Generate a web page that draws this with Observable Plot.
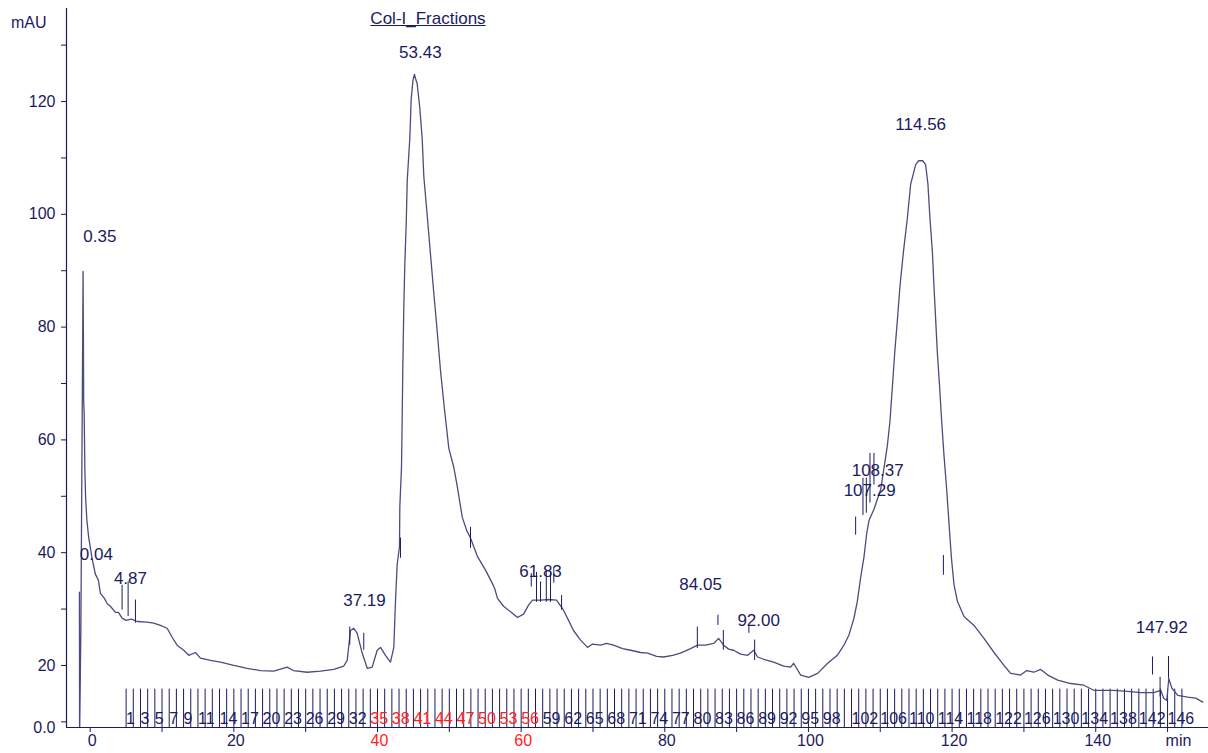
<!DOCTYPE html>
<html><head><meta charset="utf-8">
<script src="https://cdn.jsdelivr.net/npm/d3@7"></script>
<script src="https://cdn.jsdelivr.net/npm/@observablehq/plot@0.6"></script>
<style>
body{margin:0;background:#fff;font-family:"Liberation Sans",Arial,sans-serif;}
#wrap{position:relative;width:1208px;height:753px;overflow:hidden;}
#title{position:absolute;left:428px;top:9px;transform:translateX(-50%);font-size:17px;color:#1b1b5e;text-decoration:underline;white-space:nowrap;}
#unit{position:absolute;left:11px;top:14px;font-size:16px;color:#1b1b5e;}
</style></head><body>
<div id="wrap"><div id="chart"></div><div id="title">Col-I_Fractions</div><div id="unit">mAU</div></div>
<script>
// Chromatogram trace: retention time (min) and absorbance (mAU)
const time = [-1.50,-1.48,-1.30,-0.99,-0.95,-0.91,-0.84,-0.74,-0.64,-0.46,-0.21,0.26,0.72,1.14,1.42,1.98,2.35,2.81,3.51,3.93,4.44,4.99,5.74,6.53,7.92,8.84,9.78,10.71,11.41,12.10,13.02,13.72,14.65,15.35,16.74,18.13,19.99,21.85,23.70,25.56,27.42,28.30,30.21,32.06,33.91,35.31,35.78,36.24,36.70,37.17,37.87,38.57,39.26,39.96,40.42,41.11,41.81,42.27,42.51,42.74,43.06,43.11,43.34,43.44,43.52,43.66,43.80,44.00,44.14,44.50,44.69,44.94,45.15,45.29,45.52,45.88,46.22,46.45,46.92,47.38,47.84,48.31,48.77,49.33,49.93,50.63,51.10,51.80,52.40,52.95,53.89,55.04,55.97,56.30,56.71,57.55,58.66,59.50,60.33,61.03,61.59,62.70,63.81,64.93,65.90,66.60,67.29,68.27,69.25,69.94,71.06,71.89,72.86,74.12,75.24,76.63,77.61,78.86,79.83,81.09,82.19,83.59,84.56,85.68,86.80,87.49,88.19,88.89,89.59,90.56,91.54,92.37,92.93,93.76,95.16,96.55,97.53,97.94,98.92,100.03,101.28,102.68,104.02,104.94,105.64,106.34,106.81,107.27,107.73,108.11,108.43,109.12,110.06,110.99,111.35,111.68,112.01,112.38,112.74,113.22,113.77,114.23,114.93,115.35,115.91,116.32,116.64,116.92,117.26,117.48,117.72,117.95,118.27,118.55,118.87,119.25,119.57,119.90,120.26,120.74,121.66,123.05,124.44,125.84,127.23,128.16,129.55,130.39,131.37,132.34,133.32,134.71,136.52,138.33,139.72,140.70,142.51,144.46,146.27,148.08,149.05,149.47,149.89,150.17,150.59,151.42,152.81,153.93,154.90];
const absorbance = [33.0,6.7,26.2,89.9,79.4,67.0,64.7,54.6,49.8,45.7,42.7,39.0,36.2,35.1,32.8,31.9,31.0,30.5,29.4,29.4,28.4,28.0,28.2,27.8,27.7,27.5,27.1,26.6,25.0,23.6,22.7,21.8,22.3,21.3,20.9,20.6,20.0,19.5,19.1,19.0,19.7,19.1,18.8,19.0,19.3,19.9,20.9,26.2,26.6,25.7,22.2,19.5,19.7,22.7,23.2,21.8,20.6,23.2,31.6,37.9,41.1,48.2,55.1,64.0,72.3,83.3,91.0,98.4,106.0,113.5,120.4,123.8,124.8,124.1,123.2,119.0,113.5,106.7,99.8,92.9,86.0,79.3,72.3,65.4,58.5,55.1,51.8,46.3,44.0,42.6,39.4,36.9,34.6,33.7,31.9,30.5,29.4,28.5,29.1,30.7,31.6,31.6,31.7,31.6,29.8,28.0,26.2,24.5,23.2,23.8,23.6,23.9,23.6,23.0,22.7,22.3,22.2,21.6,21.5,21.8,22.2,23.0,23.6,23.6,23.9,24.8,23.6,22.9,22.7,22.0,21.8,22.7,21.5,21.1,20.6,19.9,19.7,20.4,18.3,17.9,18.6,20.4,21.8,23.6,25.4,28.4,31.4,35.6,39.2,43.4,45.7,47.7,51.2,59.0,63.3,69.3,75.4,81.2,87.2,93.3,99.3,105.3,108.8,109.5,109.5,108.8,105.3,99.3,93.3,87.2,81.2,75.4,69.3,63.3,57.3,51.2,45.2,39.2,34.4,31.4,28.7,27.1,24.8,22.3,20.0,18.6,18.3,19.1,18.8,19.3,18.3,17.4,16.8,16.5,15.6,15.6,15.6,15.4,15.2,15.2,15.6,14.2,13.8,17.7,16.0,14.7,14.4,14.2,13.5];

// Peak labels (retention time text), positions in data units
const peakNames  = ["0.35","0.04","4.87","37.19","53.43","61.83","84.05","92.00","107.29","108.37","114.56","147.92"];
const peakLabelT = [1.35, 0.86, 5.60, 38.19, 45.97, 62.70, 84.99, 93.07, 108.52, 109.64, 115.63, 149.19];
const peakLabelV = [96.1, 39.7, 35.5, 31.6, 128.7, 36.7, 34.4, 28.0, 51.1, 54.6, 116.0, 26.8];

// Peak delimiter marks
const markT   = [4.44,5.28,6.30,36.14,38.09,43.20,52.95,61.41,62.14,62.70,63.50,64.09,64.55,65.63,84.53,87.40,88.15,91.71,92.51,106.57,107.59,108.06,108.57,109.12,118.79,147.90,148.96,150.13];
const markTop = [34.2,34.8,31.6,26.8,25.7,42.6,44.5,36.3,36.5,34.8,36.9,36.5,37.2,32.4,26.8,28.9,26.2,27.1,24.5,46.3,53.2,53.2,57.6,57.6,39.5,21.5,17.9,21.6];
const markBot = [29.8,28.7,27.5,23.6,22.7,39.0,40.8,33.9,31.2,31.2,31.2,31.2,34.6,29.8,23.0,27.1,22.7,25.7,20.9,43.1,46.6,47.0,48.8,52.0,36.0,18.3,14.4,17.7];

// Fractions: 1-minute fractions starting at 5 min, 147 fractions
const fractionStart = 5;
const fractionCount = 147;
const fractionLabels = [1,3,5,7,9,11,14,17,20,23,26,29,32,35,38,41,44,47,50,53,56,59,62,65,68,71,74,77,80,83,86,89,92,95,98,102,106,110,114,118,122,126,130,134,138,142,146];
const collectedFractions = [35,38,41,44,47,50,53,56];

// Axes
const xTickValues = [0,20,40,60,80,100,120,140];
const xTickLabels = ["0","20","40","60","80","100","120","140"];
const xRedTicks = [40,60];
const xUnitTick = 150;
const xUnitLabel = "min";
const xMinorTicks = [0,10,20,30,40,50,60,70,80,90,100,110,120,130,140,150];
const yTickValues = [9.0,20,40,60,80,100,120];
const yTickLabels = ["0.0","20","40","60","80","100","120"];
const yMinorTicks = [10,20,30,40,50,60,70,80,90,100,110,120,130];

const X_DOMAIN = [-3.3, 155.7];
const Y_DOMAIN = [9.0, 136.5];
const FRACTION_TOP = 15.8;
const FRACTION_LABEL_V = 10.5;

const navy = "#1b1b5e";
const traceColor = "#4c4c7e";
const red = "#ff1e1e";

const trace = time.map((t, i) => ({t, v: absorbance[i]}));
const boundaries = d3.range(0, fractionCount + 1).map(k => fractionStart + k);
const fracT = n => fractionStart + (n - 1);
const redLabels = fractionLabels.filter(n => collectedFractions.includes(n));
const navyLabels = fractionLabels.filter(n => !collectedFractions.includes(n));
const marks = markT.map((t, i) => ({t, v1: markTop[i], v2: markBot[i]}));
const peaks = peakNames.map((s, i) => ({s, t: peakLabelT[i], v: peakLabelV[i]}));
const xTicks = xTickValues.map((t, i) => ({t, s: xTickLabels[i], red: xRedTicks.includes(t)}));
const yTicks = yTickValues.map((v, i) => ({v, s: yTickLabels[i]}));

const chart = Plot.plot({
  width: 1208, height: 753,
  marginLeft: 66, marginRight: 0, marginTop: 8, marginBottom: 26,
  x: {domain: X_DOMAIN, label: null},
  y: {domain: Y_DOMAIN, label: null},
  style: {fontFamily: '"Liberation Sans", Arial, sans-serif', background: "white", color: navy},
  marks: [
    Plot.axisX(xMinorTicks, {tickSize: 5, tickFormat: () => "", stroke: navy, label: null}),
    Plot.axisY(yMinorTicks, {tickSize: 5, tickFormat: () => "", stroke: navy, label: null}),
    Plot.ruleX([X_DOMAIN[0]], {stroke: navy, strokeWidth: 1.2}),
    Plot.ruleY([Y_DOMAIN[0]], {stroke: navy, strokeWidth: 1.2}),
    Plot.text(xTicks.filter(d => !d.red), {x: "t", text: "s", frameAnchor: "bottom", dy: 18, dx: 2, fill: navy, fontSize: 16}),
    Plot.text(xTicks.filter(d => d.red), {x: "t", text: "s", frameAnchor: "bottom", dy: 18, dx: 2, fill: red, fontSize: 16}),
    Plot.text([xUnitTick], {x: d => d, text: () => xUnitLabel, frameAnchor: "bottom", dy: 18, dx: -2, textAnchor: "start", fill: navy, fontSize: 16}),
    Plot.text(yTicks, {y: "v", text: "s", frameAnchor: "left", dx: -11, textAnchor: "end", fill: navy, fontSize: 16}),
    Plot.ruleX(boundaries, {x: d => d, y1: Y_DOMAIN[0], y2: FRACTION_TOP, stroke: navy, strokeWidth: 1}),
    Plot.text(navyLabels, {x: fracT, y: FRACTION_LABEL_V, text: d => String(d), textAnchor: "start", dx: 0, fill: navy, fontSize: 16}),
    Plot.text(redLabels, {x: fracT, y: FRACTION_LABEL_V, text: d => String(d), textAnchor: "start", dx: 0, fill: red, fontSize: 16}),
    Plot.line(trace, {x: "t", y: "v", stroke: traceColor, strokeWidth: 1.3, clip: true}),
    Plot.ruleX(marks, {x: "t", y1: "v1", y2: "v2", stroke: navy, strokeWidth: 1}),
    Plot.text(peaks, {x: "t", y: "v", text: "s", fill: navy, fontSize: 17})
  ]
});
document.getElementById("chart").appendChild(chart);
</script>
</body></html>
